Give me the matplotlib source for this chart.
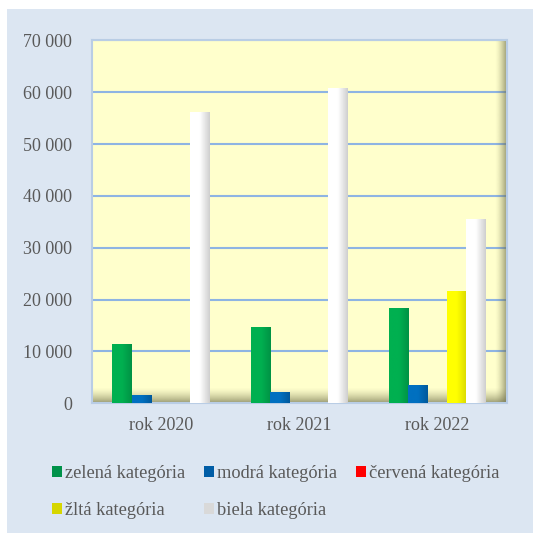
import numpy as np
import matplotlib
matplotlib.use('Agg')
import matplotlib.pyplot as plt
from matplotlib.patches import Rectangle, Patch
from matplotlib.colors import LinearSegmentedColormap

# data
years = ['rok 2020', 'rok 2021', 'rok 2022']
zelena = [11500, 14650, 18300]
modra = [1650, 2100, 3500]
cervena = [150, 150, 150]
zlta = [0, 0, 21700]
biela = [56200, 60800, 35500]
series = ['zelená kategória', 'modrá kategória', 'červená kategória',
          'žltá kategória', 'biela kategória']
yticks = [0, 10000, 20000, 30000, 40000, 50000, 60000, 70000]

# (light, dark) for bar gradients, plus legend swatch colour
bar_cols = [('#00B050', '#009245'), ('#0070C0', '#00599C'), ('#FF2020', '#E00000'),
            ('#FFFF00', '#D8D800'), ('#FFFFFF', '#CFCFCF')]
leg_cols = ['#00924A', '#005DA6', '#FF0000', '#D6D600', '#D9D9D9']

txt = '#595959'
plt.rcParams['font.family'] = ['Liberation Serif', 'DejaVu Serif']

fig = plt.figure(figsize=(5.33, 5.33), dpi=100, facecolor='white')
fig.patches.append(Rectangle((7/533, 0), 1, 1 - 9/533, transform=fig.transFigure,
                             facecolor='#DCE6F2', edgecolor='none', zorder=-10))

ax = fig.add_axes([91.5/533, 1 - 403.3/533, 415/533, 363/533])
ax.set_facecolor('#FFFFCC')

x = np.arange(len(years))
w = 0.14
data = [zelena, modra, cervena, zlta, biela]
for i, vals in enumerate(data):
    bars = ax.bar(x + (i - 2) * w, vals, w, color=bar_cols[i][0], edgecolor='none', zorder=3)
    cm = LinearSegmentedColormap.from_list('g%d' % i, [bar_cols[i][0], bar_cols[i][0], bar_cols[i][1]])
    grad = np.linspace(0, 1, 64).reshape(1, -1)
    for b in bars:
        if b.get_height() <= 0:
            continue
        im = ax.imshow(grad, cmap=cm, aspect='auto', zorder=4,
                       extent=[b.get_x(), b.get_x() + b.get_width(), 0, b.get_height()])
        im.set_clip_path(b)

# shading at bottom and right edge of the plot area
sh = np.zeros((64, 1, 4))
sh[..., :3] = (0.40, 0.40, 0.26)
sh[:, 0, 3] = np.linspace(0, 0.75, 64) ** 1.5
ax.imshow(sh, extent=[0, 1, 0, 16/363], transform=ax.transAxes, aspect='auto', zorder=2,
          origin='upper')
sv = np.zeros((1, 64, 4))
sv[..., :3] = (0.40, 0.40, 0.26)
sv[0, :, 3] = np.linspace(0, 0.75, 64) ** 1.5
ax.imshow(sv, extent=[1 - 12/415, 1, 0, 1], transform=ax.transAxes, aspect='auto', zorder=2)
ax.set_xlim(-0.5, 2.5)
ax.set_ylim(0, 70000)

ax.set_yticks(yticks)
ax.set_yticklabels([f'{v:,}'.replace(',', ' ') for v in yticks])
ax.set_xticks(x)
ax.set_xticklabels(years)
ax.tick_params(length=0, colors=txt, labelsize=13)
ax.tick_params(axis='y', pad=14)
ax.tick_params(axis='x', pad=10)
ax.grid(axis='y', color='#8EB4E3', lw=1.5, zorder=1)
ax.set_axisbelow(True)
for s in ax.spines.values():
    s.set_color('#B9CDE5')
    s.set_linewidth(1.5)

# legend, ordered so that rows read left to right
order = [0, 3, 1, 4, 2]
handles = [Patch(facecolor=leg_cols[i], edgecolor='none') for i in order]
labels = [series[i] for i in order]
fig.legend(handles, labels, ncol=3, loc='upper left', bbox_to_anchor=(52/533, 1 - 465/533),
           frameon=False, prop={'family': 'Liberation Serif', 'size': 13.2}, labelcolor=txt,
           handlelength=0.55, handleheight=0.55,
           handletextpad=0.15, columnspacing=1.05, labelspacing=1.1, borderaxespad=0,
           borderpad=0)

fig.savefig('out.png', dpi=100, facecolor='white')
